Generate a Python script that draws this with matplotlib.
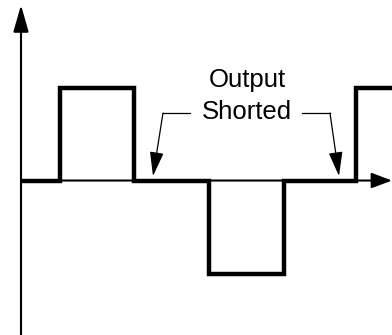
import matplotlib
matplotlib.use("Agg")
import matplotlib.pyplot as plt

# waveform: edge times and output level held after each edge
edge_t = [21, 60, 134, 209, 284, 356, 392]
levels = [0, 1, 0, -1, 0, 1, 1]

# axis extents (same units as the plot: time, level)
t_min, t_max = 0, 392
lvl_min, lvl_max = -1.661, 1.941
axis_t0 = 21
y_arrow_tip = 1.887

# label + leader lines ("Output Shorted" points at the zero level)
label_lines = ["Output", "Shorted"]
label_t = 247
label_lvl = [1.08, 0.735]
leader_elbow_lvl = 0.726
leader_tip_lvl = 0.048
left_leader_t = [190, 163, 153]     # horizontal end, elbow, tip
right_leader_t = [302, 330, 339]

fig = plt.figure(figsize=(3.92, 3.35), dpi=100)
ax = fig.add_axes([0, 0, 1, 1])
ax.set_xlim(t_min, t_max)
ax.set_ylim(lvl_min, lvl_max)
ax.axis("off")

# axes with arrows
axis_kw = dict(arrowstyle="-|>,head_length=16.5,head_width=4.7", color="black",
               lw=1.5, shrinkA=0, shrinkB=0, mutation_scale=1)
ax.annotate("", xy=(axis_t0, y_arrow_tip), xytext=(axis_t0, lvl_min),
            arrowprops=axis_kw)
axis_kw_h = dict(axis_kw, arrowstyle="-|>,head_length=12.5,head_width=4.7")
ax.annotate("", xy=(t_max, 0), xytext=(axis_t0, 0), arrowprops=axis_kw_h)

# the waveform
ax.step(edge_t, levels, where="post", color="black", lw=3.2,
        solid_joinstyle="miter", solid_capstyle="butt", zorder=3)

# label
for txt, lv in zip(label_lines, label_lvl):
    ax.text(label_t, lv, txt, ha="center", va="center", fontsize=18.5,
            family="Liberation Sans")

# leader lines
lead_kw = dict(arrowstyle="-|>,head_length=15,head_width=4.3", color="black",
               lw=0.9, shrinkA=0, shrinkB=0, mutation_scale=1)
for pts in (left_leader_t, right_leader_t):
    ax.plot(pts[:2], [leader_elbow_lvl, leader_elbow_lvl], color="black", lw=0.9)
    ax.annotate("", xy=(pts[2], leader_tip_lvl), xytext=(pts[1], leader_elbow_lvl),
                arrowprops=lead_kw)

fig.savefig("out.png", dpi=100)
